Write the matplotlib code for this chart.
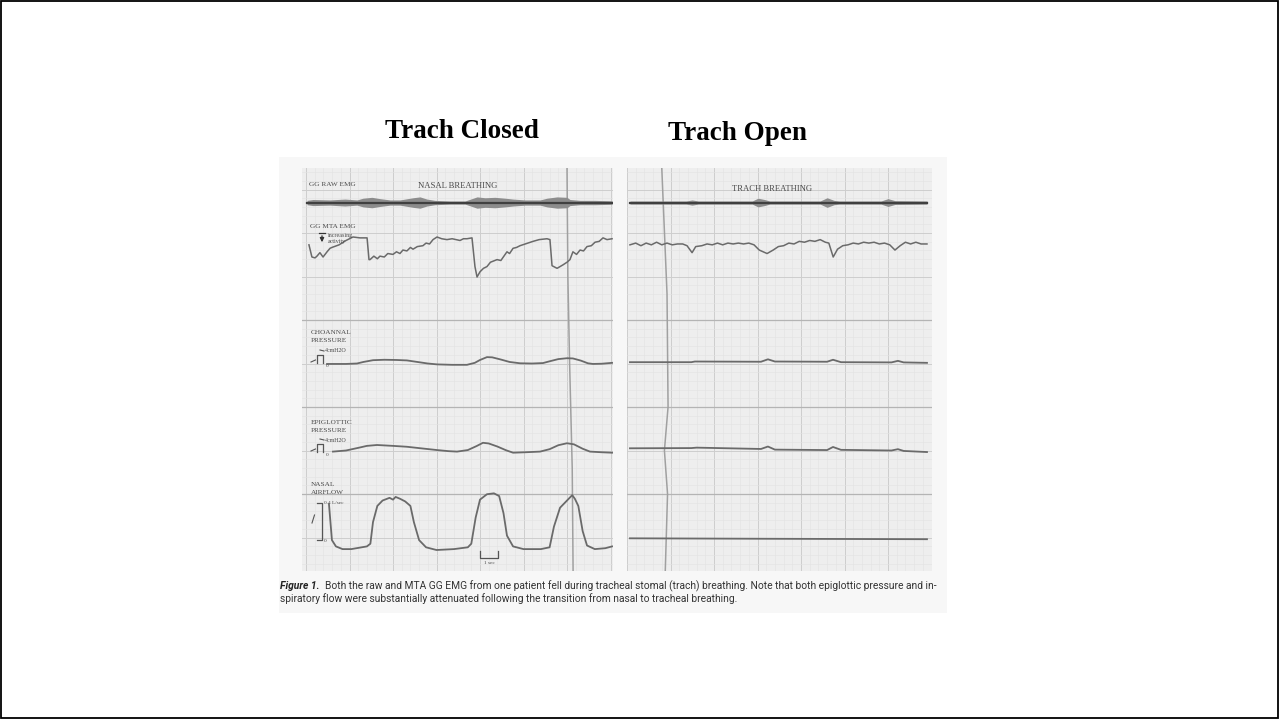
import numpy as np
import matplotlib
matplotlib.use("Agg")
import matplotlib.pyplot as plt
from matplotlib.patches import Rectangle
from matplotlib import font_manager

# ------------------------------------------------------------------
# Recorded channels, (time s, value) pairs for each segment
# ------------------------------------------------------------------
# raw genioglossus EMG, envelope half-amplitude (mm of chart)
raw_closed = [(0.06, 0.25), (0.4, 0.35), (1.38, 0.3), (2.24, 0.4), (2.93, 0.3),
              (3.28, 0.5), (3.79, 0.6), (4.25, 0.45), (4.83, 0.3), (5.40, 0.3),
              (6.15, 0.55), (6.55, 0.65), (6.95, 0.4), (7.41, 0.25), (8.28, 0.18),
              (9.14, 0.18), (9.54, 0.45), (9.83, 0.65), (10.29, 0.55), (10.86, 0.6),
              (11.44, 0.5), (11.90, 0.4), (12.59, 0.3), (13.45, 0.3), (13.85, 0.5),
              (14.43, 0.65), (15.0, 0.6), (15.17, 0.35), (15.75, 0.25), (16.61, 0.25),
              (17.59, 0.2)]
raw_open = [(0.17, 0.18), (3.4, 0.18), (3.74, 0.3), (4.1, 0.18), (7.2, 0.18), (7.53, 0.5),
            (7.9, 0.35), (8.2, 0.18), (11.1, 0.18), (11.5, 0.55), (11.9, 0.25), (12.2, 0.18),
            (14.6, 0.18), (15.0, 0.45), (15.4, 0.22), (17.24, 0.18)]

# moving-time-average GG EMG, activity (a.u., plotted downward)
mta_closed = [(0.17, 0.9), (0.34, 2.3), (0.52, 2.4), (0.63, 2.2), (0.80, 1.8), (0.98, 2.3),
              (1.21, 1.7), (1.38, 1.3), (1.49, 1.2), (1.9, 0.9), (2.3, 0.4), (2.70, 0.0),
              (3.1, 0.1), (3.51, 0.1), (3.62, 2.6), (3.68, 2.6), (3.9, 2.2), (4.1, 2.5),
              (4.25, 2.2), (4.5, 2.3), (4.7, 1.9), (5.0, 2.0), (5.2, 1.7), (5.4, 1.9),
              (5.57, 1.5), (5.8, 1.6), (6.0, 1.2), (6.15, 1.4), (6.4, 1.1), (6.72, 1.0),
              (6.9, 0.7), (7.1, 0.8), (7.30, 0.3), (7.53, 0.0), (7.8, 0.2), (8.10, 0.3),
              (8.4, 0.2), (8.85, 0.4), (9.05, 0.2), (9.25, 0.2), (9.54, 0.1), (9.71, 3.4),
              (9.83, 4.6), (10.0, 4.0), (10.2, 3.6), (10.40, 3.4), (10.6, 2.9), (10.98, 2.6),
              (11.2, 2.7), (11.55, 1.7), (11.7, 1.9), (11.90, 1.3), (12.1, 1.2), (12.30, 1.0),
              (12.6, 0.8), (13.05, 0.5), (13.4, 0.3), (13.85, 0.2), (14.02, 0.3), (14.14, 3.3),
              (14.43, 3.6), (14.77, 3.2), (15.0, 2.9), (15.17, 2.6), (15.34, 1.7), (15.55, 2.0),
              (15.75, 1.5), (15.95, 1.6), (16.15, 1.1), (16.4, 1.0), (16.61, 0.6), (16.85, 0.5),
              (17.07, 0.1), (17.3, 0.3), (17.59, 0.2)]
mta_open = [(0.17, 0.9), (0.5, 0.7), (0.8, 1.0), (1.1, 0.7), (1.4, 0.9), (1.7, 0.6),
            (2.0, 0.9), (2.3, 0.7), (2.6, 0.9), (2.9, 0.8), (3.2, 0.8), (3.45, 1.0),
            (3.74, 1.8), (3.95, 1.1), (4.3, 1.0), (4.6, 0.8), (4.9, 0.9), (5.2, 0.7),
            (5.5, 0.9), (5.8, 0.7), (6.1, 0.8), (6.4, 0.7), (6.7, 0.8), (7.0, 0.7),
            (7.3, 0.9), (7.6, 1.5), (8.05, 1.9), (8.4, 1.5), (8.7, 1.1), (9.0, 1.0),
            (9.3, 0.7), (9.6, 0.8), (9.9, 0.5), (10.2, 0.6), (10.5, 0.4), (10.8, 0.5),
            (11.1, 0.3), (11.4, 0.6), (11.6, 0.7), (11.85, 2.3), (12.1, 1.4), (12.4, 1.0),
            (12.7, 0.9), (13.0, 0.7), (13.3, 0.8), (13.6, 0.6), (13.9, 0.7), (14.2, 0.6),
            (14.5, 0.8), (14.8, 0.7), (15.1, 0.9), (15.4, 1.5), (15.7, 1.0), (16.0, 0.6),
            (16.3, 0.8), (16.6, 0.6), (16.9, 0.8), (17.24, 0.8)]

# choanal pressure (cmH2O)
choanal_closed = [(1.21, -0.2), (2.3, -0.2), (2.93, 0.0), (3.3, 0.7), (3.85, 1.5), (4.5, 1.7),
                  (5.2, 1.6), (5.8, 1.4), (6.4, 0.7), (7.0, 0.0), (7.53, -0.4), (8.4, -0.6),
                  (9.25, -0.6), (9.7, 0.3), (10.0, 1.6), (10.4, 2.9), (10.7, 2.8), (11.2, 1.8),
                  (11.7, 0.7), (12.3, 0.1), (13.0, 0.0), (13.62, 0.2), (14.0, 1.0), (14.5, 2.0),
                  (15.0, 2.4), (15.34, 2.3), (15.8, 1.3), (16.2, 0.1), (16.49, -0.2),
                  (17.0, -0.1), (17.59, 0.3)]
choanal_open = [(0.17, 0.6), (3.7, 0.6), (3.9, 0.9), (7.7, 0.8), (8.1, 1.9), (8.5, 0.9),
                (11.5, 0.8), (11.84, 1.7), (12.3, 0.6), (15.2, 0.5), (15.57, 1.2),
                (15.9, 0.5), (17.24, 0.3)]

# epiglottic pressure (cmH2O)
epiglottic_closed = [(1.55, -0.5), (2.3, 0.0), (3.0, 1.2), (3.5, 2.1), (4.08, 2.5), (5.0, 2.1),
                     (5.8, 1.7), (6.6, 1.0), (7.53, 0.2), (8.2, -0.3), (8.68, -0.5), (9.3, 0.2),
                     (9.8, 2.0), (10.17, 3.5), (10.5, 3.2), (11.0, 1.8), (11.5, 0.1),
                     (11.9, -1.0), (12.6, -0.8), (13.45, -0.5), (14.0, 0.6), (14.5, 2.4),
                     (15.0, 3.3), (15.4, 2.8), (15.9, 0.8), (16.32, -0.5), (17.0, -0.8),
                     (17.59, -1.0)]
epiglottic_open = [(0.17, 1.0), (3.7, 1.1), (4.0, 1.3), (7.7, 0.7), (8.1, 1.8), (8.5, 0.4),
                   (11.5, 0.2), (11.84, 1.6), (12.3, 0.3), (15.2, 0.0), (15.57, 0.6),
                   (15.9, -0.2), (17.24, -0.7)]

# nasal airflow (L/s)
airflow_closed = [(1.32, 0.40), (1.49, 0.0), (1.72, -0.07), (2.1, -0.1), (2.6, -0.1),
                  (3.5, -0.07), (3.7, -0.04), (3.85, 0.2), (4.1, 0.38), (4.4, 0.44),
                  (4.8, 0.47), (5.0, 0.45), (5.15, 0.48), (5.4, 0.46), (5.7, 0.43),
                  (6.0, 0.38), (6.2, 0.2), (6.5, 0.0), (6.9, -0.08), (7.5, -0.11),
                  (8.5, -0.1), (9.3, -0.08), (9.5, -0.04), (9.75, 0.25), (10.0, 0.45),
                  (10.4, 0.51), (10.8, 0.52), (11.1, 0.49), (11.35, 0.3), (11.55, 0.05),
                  (11.9, -0.07), (12.5, -0.1), (13.5, -0.1), (14.0, -0.08), (14.25, 0.15),
                  (14.6, 0.36), (15.0, 0.44), (15.3, 0.50), (15.45, 0.46), (15.65, 0.38),
                  (15.9, 0.1), (16.15, -0.06), (16.6, -0.1), (17.2, -0.09), (17.59, -0.07)]
airflow_open = [(0.17, 0.02), (8.0, 0.015), (17.24, 0.01)]

# wavy time-event lines across the chart paper (time s, paper mm)
event_closed = [(15.0, -2.4), (15.05, 10.0), (15.15, 20.0), (15.3, 32.0), (15.35, 43.8)]
event_open = [(2.0, -2.4), (2.3, 12.0), (2.36, 25.0), (2.15, 30.0), (2.33, 35.0),
              (2.2, 43.8)]

# ------------------------------------------------------------------
# Chart geometry (pixels of the slide) and channel placement (mm)
# ------------------------------------------------------------------
W, H = 1279, 719
PX_PER_S = 17.4
PX_PER_MM = 8.7
MM0_PX = 189.5
PAPER_TOP, PAPER_BOT = 168, 571

RAW_LINE = 1.5
MTA_TOP = 5.46
CHOAN_ZERO, EPI_ZERO = 20.0, 30.0
P_GAIN = 0.253          # mm per cmH2O
FLOW_ZERO, F_GAIN = 40.3, 10.34   # mm, mm per L/s

TRACE = "#6a6a6a"
TEXT = "#4a4a4a"
PAPER = "#eeeeee"

fig = plt.figure(figsize=(W / 100, H / 100), dpi=100)
fig.patch.set_facecolor("white")

ax_bg = fig.add_axes([0, 0, 1, 1])
ax_bg.set_xlim(0, W)
ax_bg.set_ylim(H, 0)
ax_bg.axis("off")

ax_bg.add_patch(Rectangle((0.5, 0.5), W - 1.5, H - 1.5, fill=False, ec="black", lw=1.3))
ax_bg.add_patch(Rectangle((279, 157), 668, 456, fc="#f7f7f7", ec="none"))

serif = "Liberation Serif"
ax_bg.text(462, 131, "Trach Closed", family=serif, fontweight="bold", fontsize=19.5,
           ha="center", va="center", color="black")
ax_bg.text(737, 133, "Trach Open", family=serif, fontweight="bold", fontsize=19.5,
           ha="center", va="center", color="black")


def panel(x0, x1, t0):
    ax = fig.add_axes([x0 / W, 1 - PAPER_BOT / H, (x1 - x0) / W,
                       (PAPER_BOT - PAPER_TOP) / H])
    ax.set_facecolor(PAPER)
    ax.set_xlim((x0 - t0) / PX_PER_S, (x1 - t0) / PX_PER_S)
    ax.set_ylim((PAPER_BOT - MM0_PX) / PX_PER_MM, (PAPER_TOP - MM0_PX) / PX_PER_MM)
    for s in ax.spines.values():
        s.set_visible(False)
    ax.set_xticks([])
    ax.set_yticks([])
    lo, hi = ax.get_xlim()
    for t in np.arange(0, hi, 0.5):
        major = abs(t / 2.5 - round(t / 2.5)) < 1e-6
        ax.axvline(t, color="#cdcdcd" if major else "#e2e2e2",
                   lw=0.7 if major else 0.4, zorder=0)
    for m in np.arange(-2, 44, 1.0):
        if m % 5 == 0:
            dark = m in (15, 25, 35)
            ax.axhline(m, color="#b4b4b4" if dark else "#cdcdcd",
                       lw=0.9 if dark else 0.7, zorder=0)
        else:
            ax.axhline(m, color="#e2e2e2", lw=0.4, zorder=0)
    return ax


def draw_channels(ax, raw, mta, cho, epi, flow, event):
    t, a = np.array(raw).T
    ax.fill_between(t, RAW_LINE - a, RAW_LINE + a, color="#8c8c8c", lw=0, zorder=3)
    ax.plot(t, np.full_like(t, RAW_LINE), color="#404040", lw=1.6, zorder=4)
    t, v = np.array(mta).T
    ax.plot(t, MTA_TOP + v, color=TRACE, lw=1.1, zorder=4)
    t, v = np.array(cho).T
    ax.plot(t, CHOAN_ZERO - P_GAIN * v, color=TRACE, lw=1.3, zorder=4)
    t, v = np.array(epi).T
    ax.plot(t, EPI_ZERO - P_GAIN * v, color=TRACE, lw=1.3, zorder=4)
    t, v = np.array(flow).T
    ax.plot(t, FLOW_ZERO - F_GAIN * v, color=TRACE, lw=1.3, zorder=4)
    t, m = np.array(event).T
    ax.plot(t, m, color="#a0a0a0", lw=1.1, zorder=2)


ax_l = panel(302, 613, 306)
ax_r = panel(627, 932, 627)
draw_channels(ax_l, raw_closed, mta_closed, choanal_closed, epiglottic_closed,
              airflow_closed, event_closed)
draw_channels(ax_r, raw_open, mta_open, choanal_open, epiglottic_open,
              airflow_open, event_open)

# one-second time bar
ax_l.plot([10.0, 10.0, 11.03, 11.03], [41.5, 42.4, 42.4, 41.5], color="#555555", lw=0.9)
ax_l.text(10.52, 42.95, "1 sec", family=serif, fontsize=3.8, ha="center", va="center",
          color=TEXT)

# overlay layer for channel labels and calibration marks
ax_fg = fig.add_axes([0, 0, 1, 1])
ax_fg.set_xlim(0, W)
ax_fg.set_ylim(H, 0)
ax_fg.axis("off")
ax_fg.patch.set_alpha(0)

lab = dict(family=serif, fontsize=5.2, color=TEXT, va="center", ha="left")
ax_fg.text(309, 184, "GG RAW EMG", **lab)
ax_fg.text(310, 227, "GG MTA EMG", **lab)
ax_fg.text(328, 235, "increasing", family=serif, fontsize=4.3, color=TEXT, va="center")
ax_fg.text(328, 242, "activity", family=serif, fontsize=4.3, color=TEXT, va="center")
ax_fg.annotate("", xy=(322, 245), xytext=(322, 233),
               arrowprops=dict(arrowstyle="-|>", color="#333333", lw=0.9,
                               mutation_scale=6))
ax_fg.plot([319, 325], [233, 233], color="#333333", lw=0.9)
ax_fg.text(458, 186, "NASAL BREATHING", family=serif, fontsize=6.2, color=TEXT,
           ha="center", va="center")
ax_fg.text(772, 189, "TRACH BREATHING", family=serif, fontsize=6.2, color=TEXT,
           ha="center", va="center")

for top, name in ((333, "CHOANNAL"), (422, "EPIGLOTTIC")):
    ax_fg.text(311, top, name, **lab)
    ax_fg.text(311, top + 8, "PRESSURE", **lab)
    ax_fg.text(325, top + 18, "4cmH2O", family=serif, fontsize=4.3, color=TEXT,
               va="center")
    ax_fg.plot([320, 324], [top + 17, top + 18], color="#555555", lw=0.8)
    z = top + 30
    ax_fg.plot([311, 315.5], [z - 1, z - 3], color="#555555", lw=0.8)
    ax_fg.plot([316.5, 316.5, 323, 323], [z, z - 8, z - 8, z], color="#555555", lw=0.9)
    ax_fg.text(326, z + 3, "0", family=serif, fontsize=3.8, color=TEXT, va="center")

ax_fg.text(311, 484, "NASAL", **lab)
ax_fg.text(311, 492, "AIRFLOW", **lab)
ax_fg.plot([317, 322, 322, 317], [503, 503, 540, 540], color="#555555", lw=0.9)
ax_fg.plot([312, 314.5], [523, 515], color="#555555", lw=0.8)
ax_fg.text(324, 503, "0.4 L/sec", family=serif, fontsize=3.8, color=TEXT, va="center")
ax_fg.text(324, 541, "0", family=serif, fontsize=3.8, color=TEXT, va="center")


# caption below the chart
def pick_font(cands):
    names = {f.name for f in font_manager.fontManager.ttflist}
    for c in cands:
        if c in names:
            return c
    return "DejaVu Sans"


cap_font = pick_font(["Liberation Sans Narrow", "Roboto", "Liberation Sans"])
line1 = ("Both the raw and MTA GG EMG from one patient fell during tracheal stomal "
         "(trach) breathing. Note that both epiglottic pressure and in-")
line2 = ("spiratory flow were substantially attenuated following the transition from "
         "nasal to tracheal breathing.")

renderer = fig.canvas.get_renderer()
size = 8.0
head = ax_fg.text(280, 586, "Figure 1.", family=cap_font, fontweight="bold",
                  fontstyle="italic", fontsize=size, color="#222222", va="center")
body = ax_fg.text(0, 586, "  " + line1, family=cap_font, fontsize=size,
                  color="#333333", va="center")
w_total = (head.get_window_extent(renderer).width + body.get_window_extent(renderer).width)
size = size * 660.0 / w_total
head.set_fontsize(size)
body.set_fontsize(size)
hw = head.get_window_extent(renderer).width
body.set_x(280 + hw)
ax_fg.text(280, 599, line2, family=cap_font, fontsize=size, color="#333333", va="center")

fig.savefig("out.png", dpi=100, facecolor="white")
